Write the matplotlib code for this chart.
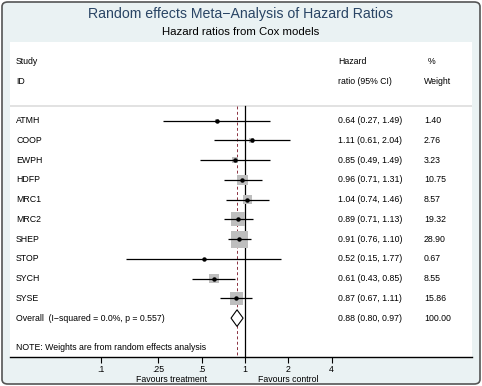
import matplotlib
matplotlib.use("Agg")
import matplotlib.pyplot as plt
from matplotlib.patches import FancyBboxPatch
import numpy as np

plt.rcParams['font.family'] = ['Liberation Sans', 'DejaVu Sans']

studies = ["ATMH", "COOP", "EWPH", "HDFP", "MRC1", "MRC2", "SHEP", "STOP", "SYCH", "SYSE"]
hr = [0.64, 1.11, 0.85, 0.96, 1.04, 0.89, 0.91, 0.52, 0.61, 0.87]
lo = [0.27, 0.61, 0.49, 0.71, 0.74, 0.71, 0.76, 0.15, 0.43, 0.67]
hi = [1.49, 2.04, 1.49, 1.31, 1.46, 1.13, 1.10, 1.77, 0.85, 1.11]
weight = [1.40, 2.76, 3.23, 10.75, 8.57, 19.32, 28.90, 0.67, 8.55, 15.86]

overall_hr, overall_lo, overall_hi = 0.88, 0.80, 0.97
overall_weight = 100.00
overall_label = "Overall  (I\u2212squared = 0.0%, p = 0.557)"
tick_vals = [0.1, 0.25, 0.5, 1, 2, 4]
tick_labels = [".1", ".25", ".5", "1", "2", "4"]

W, H = 482, 386
fig = plt.figure(figsize=(W / 100, H / 100), dpi=100)
fig.patch.set_facecolor("white")

# outer rounded panel, kept behind the axes
bg = FancyBboxPatch((2 / W, 2 / H), (W - 4) / W, (H - 4) / H,
                    boxstyle="round,pad=0,rounding_size=0.012",
                    transform=fig.transFigure, facecolor="#eaf2f3",
                    edgecolor="#555555", linewidth=1.2, zorder=-10)
fig.patches.append(bg)

# plot region (white)
x0, x1, y_top, y_bot = 10, 472, 42, 357
ax = fig.add_axes([x0 / W, 1 - y_bot / H, (x1 - x0) / W, (y_bot - y_top) / H])
ax.set_zorder(5)
ax.set_facecolor("white")
ax.set_xscale("log")
ax.set_xlim(10 ** ((x0 - 245) / 144), 10 ** ((x1 - 245) / 144))
ax.set_ylim(11.97, -3.99)

for s in ["top", "right", "left"]:
    ax.spines[s].set_visible(False)
ax.spines["bottom"].set_linewidth(1.0)
ax.set_yticks([])
ax.set_xticks(tick_vals)
ax.set_xticklabels(tick_labels)
ax.minorticks_off()
ax.tick_params(axis="x", length=4, width=0.8, labelsize=6.3, pad=1.5, colors="black")

# header separator
ax.axhline(-0.75, color="#dddddd", lw=1.2)
# null line and overall line
ax.plot([1, 1], [-0.75, 11.97], color="black", lw=0.9)
ax.plot([overall_hr, overall_hr], [-0.75, 11.97], color="#8a3040", lw=0.7,
        linestyle=(0, (3, 2.5)))

ypos = np.arange(len(studies))
side_px = 3.16 * np.sqrt(weight)
ax.scatter(hr, ypos, marker="s", s=(side_px * 0.72) ** 2, color="#bebebe",
           linewidths=0, zorder=2)
ax.hlines(ypos, lo, hi, color="black", lw=0.9, zorder=3)
ax.plot(hr, ypos, "o", color="black", markersize=2.2, zorder=4)

# overall diamond
yo = len(studies)
ax.fill([overall_lo, overall_hr, overall_hi, overall_hr],
        [yo, yo - 0.42, yo, yo + 0.42], facecolor="white",
        edgecolor="black", lw=0.8, zorder=4)

fs = 6.3
tx_lab, tx_hr, tx_w = 0.013, 0.710, 0.896
tr = ax.get_yaxis_transform()
ax.text(tx_lab, -3, "Study", transform=tr, fontsize=fs, va="center")
ax.text(tx_lab, -2, "ID", transform=tr, fontsize=fs, va="center")
ax.text(tx_hr, -3, "Hazard", transform=tr, fontsize=fs, va="center")
ax.text(tx_hr, -2, "ratio (95% CI)", transform=tr, fontsize=fs, va="center")
ax.text(0.905, -3, "%", transform=tr, fontsize=fs, va="center")
ax.text(tx_w, -2, "Weight", transform=tr, fontsize=fs, va="center")

for i, name in enumerate(studies):
    ax.text(tx_lab, i, name, transform=tr, fontsize=fs, va="center")
    ax.text(tx_hr, i, f"{hr[i]:.2f} ({lo[i]:.2f}, {hi[i]:.2f})", transform=tr,
            fontsize=fs, va="center")
    ax.text(tx_w, i, f"{weight[i]:.2f}", transform=tr, fontsize=fs, va="center")

ax.text(tx_lab, yo, overall_label, transform=tr, fontsize=fs, va="center")
ax.text(tx_hr, yo, f"{overall_hr:.2f} ({overall_lo:.2f}, {overall_hi:.2f})",
        transform=tr, fontsize=fs, va="center")
ax.text(tx_w, yo, f"{overall_weight:.2f}", transform=tr, fontsize=fs, va="center")
ax.text(tx_lab, 11.5, "NOTE: Weights are from random effects analysis",
        transform=tr, fontsize=fs, va="center")

# titles
fig.text(241 / W, 1 - 14 / H, "Random effects Meta\u2212Analysis of Hazard Ratios",
         ha="center", va="center", fontsize=10.2, color="#2a4565")
fig.text(241 / W, 1 - 32 / H, "Hazard ratios from Cox models",
         ha="center", va="center", fontsize=8.2, color="black")

# direction labels
fig.text(171 / W, 1 - 380 / H, "Favours treatment", ha="center", va="center",
         fontsize=fs)
fig.text(288 / W, 1 - 380 / H, "Favours control", ha="center", va="center",
         fontsize=fs)

fig.savefig("out.png", dpi=100, facecolor=fig.get_facecolor())
